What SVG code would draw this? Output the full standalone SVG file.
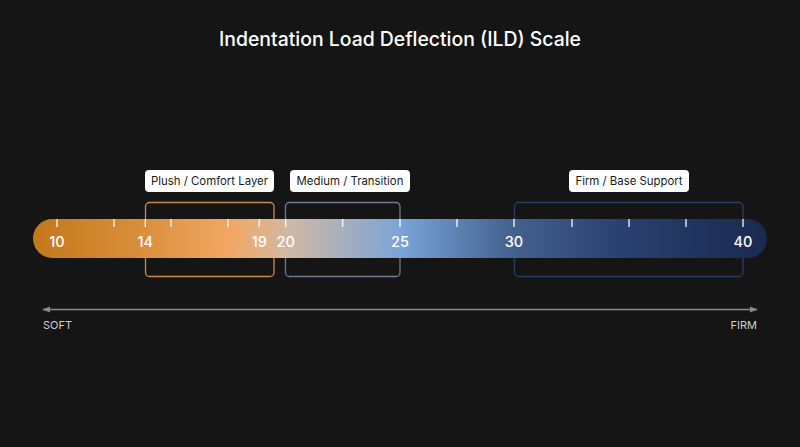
<svg xmlns="http://www.w3.org/2000/svg" width="800" height="447" viewBox="0 0 800 447">
<defs>
<linearGradient id="barGrad" x1="33" y1="0" x2="767" y2="0" gradientUnits="userSpaceOnUse">
<stop offset="0" stop-color="#c4781c"/>
<stop offset="0.14" stop-color="#d88d38"/>
<stop offset="0.27" stop-color="#f2a865"/>
<stop offset="0.35" stop-color="#cfb9a6"/>
<stop offset="0.5" stop-color="#7ba4d8"/>
<stop offset="0.65" stop-color="#44628f"/>
<stop offset="0.8" stop-color="#2a4070"/>
<stop offset="1" stop-color="#1a2a4e"/>
</linearGradient>
<marker id="ah" viewBox="0 0 10 10" refX="9" refY="5" markerWidth="8" markerHeight="8" markerUnits="userSpaceOnUse" orient="auto-start-reverse">
<path d="M0,1 L10,5 L0,9 z" fill="#8a8a8a"/>
</marker>
<style>
text{font-family:Inter,"Liberation Sans",sans-serif}
.title{font-size:19.4px;fill:#ffffff;font-weight:500}
.num{font-size:14.5px;fill:#ffffff;font-weight:500;text-anchor:middle}
.tick{stroke:#ffffff;stroke-width:1.4;opacity:0.9}
.lbox{fill:#ffffff}
.ltxt{font-size:11.4px;fill:#1a1a1a;text-anchor:middle}
.brk{fill:none;stroke-width:1.3}
.end{font-size:11px;fill:#cfcfcf}
</style>
</defs>
<rect width="800" height="447" fill="#151515"/>
<text class="title" x="400" y="46" text-anchor="middle">Indentation Load Deflection (ILD) Scale</text>

<g id="bracket-plush"><rect class="brk" x="145.5" y="202.5" width="128.5" height="74" rx="4" stroke="#c98a4b"/></g>
<g id="bracket-medium"><rect class="brk" x="285.5" y="202.5" width="114.5" height="74" rx="4" stroke="#6f7c92"/></g>
<g id="bracket-firm"><rect class="brk" x="514.5" y="202.5" width="228.5" height="74" rx="4" stroke="#2c3d63"/></g>

<g id="bar">
<rect x="33" y="219" width="734" height="39" rx="19.5" fill="url(#barGrad)"/>
<g>
<line class="tick" x1="57" y1="219" x2="57" y2="227"/>
<line class="tick" x1="114" y1="219" x2="114" y2="227"/>
<line class="tick" x1="145.3" y1="219" x2="145.3" y2="227"/>
<line class="tick" x1="171" y1="219" x2="171" y2="227"/>
<line class="tick" x1="228" y1="219" x2="228" y2="227"/>
<line class="tick" x1="259.3" y1="219" x2="259.3" y2="227"/>
<line class="tick" x1="285.7" y1="219" x2="285.7" y2="227"/>
<line class="tick" x1="342.7" y1="219" x2="342.7" y2="227"/>
<line class="tick" x1="400" y1="219" x2="400" y2="227"/>
<line class="tick" x1="457" y1="219" x2="457" y2="227"/>
<line class="tick" x1="514" y1="219" x2="514" y2="227"/>
<line class="tick" x1="572" y1="219" x2="572" y2="227"/>
<line class="tick" x1="629" y1="219" x2="629" y2="227"/>
<line class="tick" x1="686" y1="219" x2="686" y2="227"/>
<line class="tick" x1="743" y1="219" x2="743" y2="227"/>
</g>
<text class="num" x="57" y="247">10</text>
<text class="num" x="145.3" y="247">14</text>
<text class="num" x="259.3" y="247">19</text>
<text class="num" x="285.7" y="247">20</text>
<text class="num" x="400" y="247">25</text>
<text class="num" x="514" y="247">30</text>
<text class="num" x="743" y="247">40</text>
</g>

<g id="label-plush"><rect class="lbox" x="145" y="170" width="129" height="22" rx="4"/><text class="ltxt" x="209.5" y="185.3">Plush / Comfort Layer</text></g>
<g id="label-medium"><rect class="lbox" x="290" y="170" width="120" height="22" rx="4"/><text class="ltxt" x="350" y="185.3">Medium / Transition</text></g>
<g id="label-firm"><rect class="lbox" x="569" y="170" width="120" height="22" rx="4"/><text class="ltxt" x="629" y="185.3">Firm / Base Support</text></g>

<g id="connectors">
<line x1="43" y1="309.5" x2="757" y2="309.5" stroke="#8a8a8a" stroke-width="1.3" marker-start="url(#ah)" marker-end="url(#ah)"/>
</g>
<text class="end" x="43" y="329">SOFT</text>
<text class="end" x="757" y="329" text-anchor="end">FIRM</text>
</svg>
